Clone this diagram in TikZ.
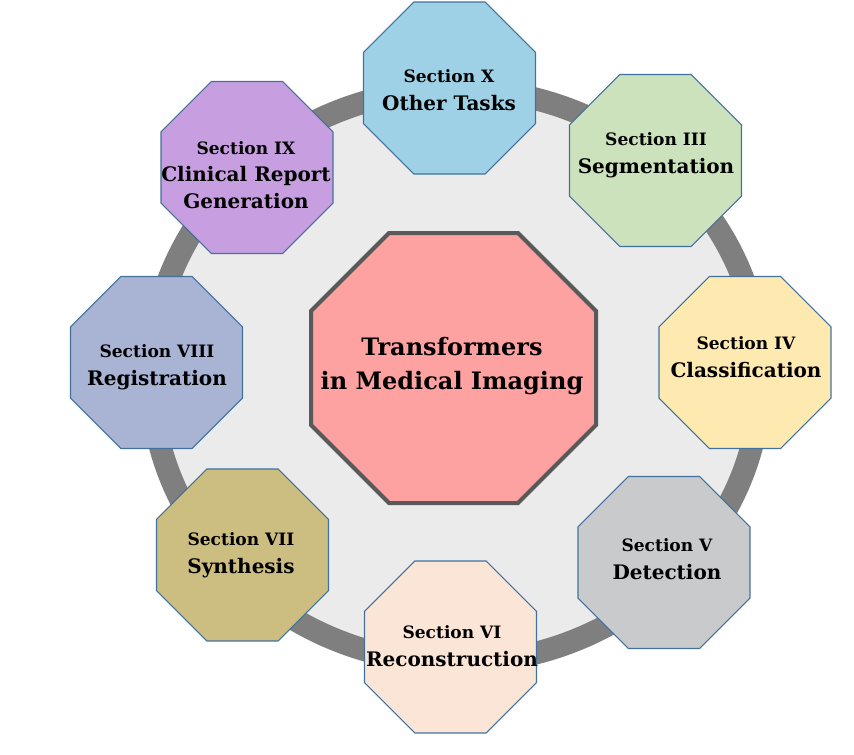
\documentclass[tikz,border=0pt]{standalone}
\usepackage{fontspec}
\setmainfont{DejaVu Serif}
\usetikzlibrary{shapes.geometric}
\definecolor{ringgray}{HTML}{7F7F7F}
\definecolor{innergray}{HTML}{EBEBEB}
\definecolor{octline}{HTML}{41719C}
\definecolor{centerline}{HTML}{595959}
\definecolor{centerfill}{HTML}{FDA2A0}
\definecolor{cX}{HTML}{9FD1E6}
\definecolor{cIII}{HTML}{CCE2BC}
\definecolor{cIV}{HTML}{FEEAB0}
\definecolor{cV}{HTML}{C9CACC}
\definecolor{cVI}{HTML}{FBE5D6}
\definecolor{cVII}{HTML}{CCBD80}
\definecolor{cVIII}{HTML}{A9B4D4}
\definecolor{cIX}{HTML}{C79FE0}
\tikzset{
  oct/.style={regular polygon, regular polygon sides=8, minimum size=139.6pt,
    inner sep=0pt, outer sep=0pt, draw=octline, line width=0.8pt},
  txt/.style={align=center, inner sep=0pt, text=black,
    font=\fontsize{15}{21}\selectfont\bfseries},
}
\newcommand{\seclab}[1]{{\fontsize{12.8}{21}\selectfont #1}}
\begin{document}
\begin{tikzpicture}[x=0.75pt,y=-0.75pt]
\useasboundingbox (0,0) rectangle (854,754);
% ring
\draw[draw=ringgray, fill=innergray, line width=17pt] (456,376) ellipse [x radius=305, y radius=287];
% center octagon
\draw[draw=centerline, fill=centerfill, line width=3pt, line join=miter]
  (389,233) -- (518,233) -- (596,311) -- (596,425) -- (518,503) -- (389,503) -- (311,425) -- (311,311) -- cycle;
\node[align=center, inner sep=0pt, font=\fontsize{18}{25}\selectfont\bfseries] (main) at (452,366) {Transformers\\in Medical Imaging};
% section octagons
\node[oct, fill=cX] (oX) at (449.5,88) {};
\node[oct, fill=cIII] (oIII) at (655.5,160.5) {};
\node[oct, fill=cIV] (oIV) at (745,362.5) {};
\node[oct, fill=cV] (oV) at (664,562.5) {};
\node[oct, fill=cVI] (oVI) at (450.5,647) {};
\node[oct, fill=cVII] (oVII) at (242.5,555) {};
\node[oct, fill=cVIII] (oVIII) at (156.5,362.5) {};
\node[oct, fill=cIX] (oIX) at (247,167.5) {};
% labels
\node[txt] (tX) at (449,90) {\seclab{Section X}\\Other Tasks};
\node[txt] (tIII) at (656,155) {\seclab{Section III}\\Segmentation};
\node[txt] (tIV) at (746,357) {\seclab{Section IV}\\Classification};
\node[txt] (tV) at (667,559) {\seclab{Section V}\\Detection};
\node[txt] (tVI) at (452,646) {\seclab{Section VI}\\Reconstruction};
\node[txt] (tVII) at (241,555) {\seclab{Section VII}\\Synthesis};
\node[txt] (tVIII) at (157,367) {\seclab{Section VIII}\\Registration};
\node[txt, font=\fontsize{15}{20}\selectfont\bfseries] (tIX) at (246,175) {\seclab{Section IX}\\Clinical Report\\ Generation};
\end{tikzpicture}
\end{document}
